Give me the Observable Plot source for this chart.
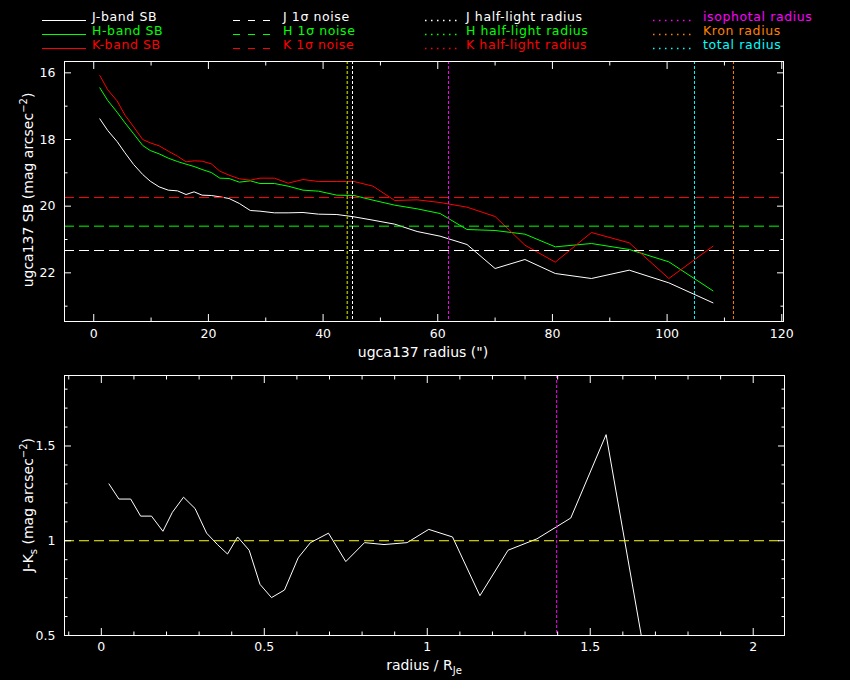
<!DOCTYPE html>
<html><head><meta charset="utf-8">
<script src="https://cdn.jsdelivr.net/npm/d3@7"></script>
<script src="https://cdn.jsdelivr.net/npm/@observablehq/plot@0.6"></script>
<style>
html,body{margin:0;padding:0;background:#000;}
#wrap{position:relative;width:850px;height:680px;background:#000;overflow:hidden;font-family:"DejaVu Sans",sans-serif;color:#fff;}
.abs{position:absolute;white-space:nowrap;font-size:14px;line-height:14px;}
.rot{transform:translate(-50%,-50%) rotate(-90deg);}
.ctr{transform:translate(-50%,-50%);}
sub,sup{font-size:10px;line-height:0;}
#wrap svg{position:absolute;left:0;}
</style></head><body><div id="wrap"></div>
<script>
// ---------- data ----------
const radius = [1.06, 2.44, 4.07, 5.45, 6.96, 8.54, 9.85, 11.4, 13.0, 14.6, 16.1, 17.5, 18.9, 20.5, 22.0, 23.6, 25.4, 27.3, 29.0, 31.5, 33.9, 36.5, 39.2, 42.4, 45.4, 48.7, 52.5, 56.4, 60.4, 65.1, 70.0, 75.2, 80.5, 86.8, 93.4, 100.3, 108.0];
const sbJ = [17.38, 17.73, 18.06, 18.40, 18.75, 19.05, 19.25, 19.42, 19.52, 19.54, 19.65, 19.57, 19.67, 19.68, 19.72, 19.77, 19.92, 20.13, 20.15, 20.20, 20.20, 20.19, 20.24, 20.25, 20.32, 20.42, 20.54, 20.76, 20.90, 21.15, 21.87, 21.60, 22.02, 22.17, 21.92, 22.30, 22.90];
const sbH = [16.45, 16.83, 17.18, 17.50, 17.83, 18.18, 18.33, 18.43, 18.56, 18.66, 18.74, 18.81, 18.90, 18.99, 19.16, 19.17, 19.28, 19.24, 19.32, 19.32, 19.40, 19.52, 19.55, 19.67, 19.68, 19.82, 19.97, 20.08, 20.22, 20.70, 20.73, 20.84, 21.22, 21.12, 21.30, 21.67, 22.54];
const sbK = [16.08, 16.51, 16.84, 17.27, 17.62, 18.00, 18.10, 18.19, 18.35, 18.50, 18.67, 18.64, 18.65, 18.73, 18.95, 19.07, 19.18, 19.22, 19.16, 19.16, 19.31, 19.20, 19.26, 19.26, 19.26, 19.40, 19.83, 19.81, 19.89, 20.03, 20.31, 21.17, 21.68, 20.79, 21.10, 22.17, 21.20];
const colourProfilePoints = 32;                   // J-K colour profile is shown out to 75"

const bands = ["J", "H", "K"];
const bandColors = ["#ffffff", "#00ff00", "#ff0000"];
const noiseLevels = [21.33, 20.60, 19.74];      // 1-sigma noise (mag arcsec^-2)
const halfLightRadii = [45.13, 44.27, 44.10];    // arcsec, J H K
const isophotalRadius = 61.87;
const kronRadius = 111.57;
const totalRadius = 104.77;
const RJe = 45.2;                                 // J half-light radius used for normalisation
const isophotalRadiusNorm = 1.397;
const colourReference = 1.0;

const upperXMajor = [0, 20, 40, 60, 80, 100, 120];
const upperXMinor = [10, 30, 50, 70, 90, 110];
const upperYMajor = [16, 18, 20, 22];
const upperYMinor = [17, 19, 21, 23];
const lowerXMajor = [0, 0.5, 1, 1.5, 2];
const lowerXMinor = [-0.1, 0.1, 0.2, 0.3, 0.4, 0.6, 0.7, 0.8, 0.9, 1.1, 1.2, 1.3, 1.4, 1.6, 1.7, 1.8, 1.9];
const lowerYMajor = [0.5, 1, 1.5];
const lowerYMinor = [0.6, 0.7, 0.8, 0.9, 1.1, 1.2, 1.3, 1.4, 1.6, 1.7, 1.8];

const legendLabels = ["J-band SB", "H-band SB", "K-band SB",
  "J 1σ noise", "H 1σ noise", "K 1σ noise",
  "J half-light radius", "H half-light radius", "K half-light radius",
  "isophotal radius", "Kron radius", "total radius"];
const legendColors = ["#ffffff", "#00ff00", "#ff0000", "#ffffff", "#00ff00", "#ff0000",
  "#ffffff", "#00ff00", "#ff0000", "#ff00ff", "#ff8000", "#00ffff"];
const legendDash = ["none", "7,8", "1.5,4.5", "1.5,4.5"];

// ---------- helpers ----------
const wrap = d3.select("#wrap");
const DASH = "10,5", DOT = "3,2";
const fmt = d => `${d}`;
function frameTicks(xMaj, xMin, yMaj, yMin, maj, min) {
  const t = [];
  for (const [vals, s] of [[xMaj, maj], [xMin, min]]) {
    t.push(Plot.axisX(vals, {anchor: "bottom", tickSize: s, dy: -s, fill: "none", label: null, stroke: "#fff"}));
    t.push(Plot.axisX(vals, {anchor: "top", tickSize: s, dy: s, fill: "none", label: null, stroke: "#fff"}));
  }
  for (const [vals, s] of [[yMaj, maj], [yMin, min]]) {
    t.push(Plot.axisY(vals, {anchor: "left", tickSize: s, dx: s, fill: "none", label: null, stroke: "#fff"}));
    t.push(Plot.axisY(vals, {anchor: "right", tickSize: s, dx: -s, fill: "none", label: null, stroke: "#fff"}));
  }
  return t;
}
const style = {background: "transparent", color: "#fff", fontFamily: "DejaVu Sans, sans-serif", fontSize: "12.5px", overflow: "visible"};
const vline = (v, c) => Plot.ruleX([v], {stroke: c, strokeDasharray: DOT, strokeWidth: 1});

// ---------- upper panel ----------
const sb = [sbJ, sbH, sbK];
const upper = Plot.plot({
  width: 850, height: 370,
  marginLeft: 64, marginRight: 67, marginTop: 61, marginBottom: 49,
  style,
  x: {domain: [-5.1, 120.3]},
  y: {domain: [15.66, 23.46], reverse: true},
  marks: [
    ...bands.map((b, k) => Plot.line(radius, {x: d => d, y: (d, i) => sb[k][i], stroke: bandColors[k], strokeWidth: 1})),
    ...noiseLevels.map((v, k) => Plot.ruleY([v], {stroke: bandColors[k], strokeDasharray: DASH, strokeWidth: 1})),
    vline(halfLightRadii[2], bandColors[2]),
    vline(halfLightRadii[1], bandColors[1]),
    vline(halfLightRadii[0], bandColors[0]),
    vline(isophotalRadius, "#ff00ff"),
    vline(kronRadius, "#ff8000"),
    vline(totalRadius, "#00ffff"),
    ...frameTicks(upperXMajor, upperXMinor, upperYMajor, upperYMinor, 7, 3.5),
    Plot.axisX(upperXMajor, {anchor: "bottom", tickSize: 0, tickPadding: 8, label: null, fill: "#fff", tickFormat: fmt}),
    Plot.axisY(upperYMajor, {anchor: "left", tickSize: 0, tickPadding: 9, label: null, fill: "#fff", tickFormat: fmt}),
    Plot.frame({stroke: "#fff", strokeWidth: 1})
  ]
});
upper.style.top = "0px";
wrap.node().appendChild(upper);

// ---------- lower panel ----------
const colourJK = sbJ.slice(0, colourProfilePoints).map((j, i) => j - sbK[i]);
const radiusNorm = radius.slice(0, colourProfilePoints).map(r => r / RJe);
const lower = Plot.plot({
  width: 850, height: 310,
  marginLeft: 64, marginRight: 66, marginTop: 5, marginBottom: 45,
  style,
  x: {domain: [-0.113, 2.096]},
  y: {domain: [0.5, 1.872]},
  marks: [
    Plot.line(radiusNorm, {x: d => d, y: (d, i) => colourJK[i], stroke: "#fff", strokeWidth: 1, clip: true}),
    Plot.ruleY([colourReference], {stroke: "#ffff00", strokeDasharray: DASH, strokeWidth: 1}),
    vline(isophotalRadiusNorm, "#ff00ff"),
    ...frameTicks(lowerXMajor, lowerXMinor, lowerYMajor, lowerYMinor, 7, 3.5),
    Plot.axisX(lowerXMajor, {anchor: "bottom", tickSize: 0, tickPadding: 7, label: null, fill: "#fff", tickFormat: fmt}),
    Plot.axisY(lowerYMajor, {anchor: "left", tickSize: 0, tickPadding: 9, label: null, fill: "#fff", tickFormat: fmt}),
    Plot.frame({stroke: "#fff", strokeWidth: 1})
  ]
});
lower.style.top = "370px";
wrap.node().appendChild(lower);

// ---------- axis titles ----------
function addLabel(html, x, y, rot) {
  wrap.append("div").attr("class", "abs " + (rot ? "rot" : "ctr"))
    .style("left", x + "px").style("top", y + "px").html(html);
}
addLabel('ugca137 radius (")', 423, 352, false);
addLabel('ugca137 SB (mag arcsec<sup>−2</sup>)', 28, 190, true);
addLabel('radius / R<sub>Je</sub>', 424, 665, false);
addLabel('J-K<sub>s</sub> (mag arcsec<sup>−2</sup>)', 28, 505, true);

// ---------- legend ----------
const colSampleX = [42, 233, 425, 653], colSampleW = [44, 43, 32, 40], colTextX = [92, 283, 466, 703];
const rowBase = [21, 35, 49];
const leg = wrap.append("svg").attr("width", 850).attr("height", 60).style("top", "0px");
legendLabels.forEach((lab, i) => {
  const c = i < 9 ? Math.floor(i / 3) : 3, r = i < 9 ? i % 3 : i - 9;
  leg.append("line").attr("x1", colSampleX[c]).attr("x2", colSampleX[c] + colSampleW[c])
    .attr("y1", rowBase[r] - 0.5).attr("y2", rowBase[r] - 0.5)
    .attr("stroke", legendColors[i]).attr("stroke-width", c >= 2 ? 1.5 : 1)
    .attr("stroke-dasharray", legendDash[c]);
  leg.append("text").attr("x", colTextX[c]).attr("y", rowBase[r])
    .attr("fill", legendColors[i]).attr("font-family", "DejaVu Sans, sans-serif")
    .attr("font-size", 12.5).attr("letter-spacing", 0.6).text(lab);
});
</script>
</body></html>
